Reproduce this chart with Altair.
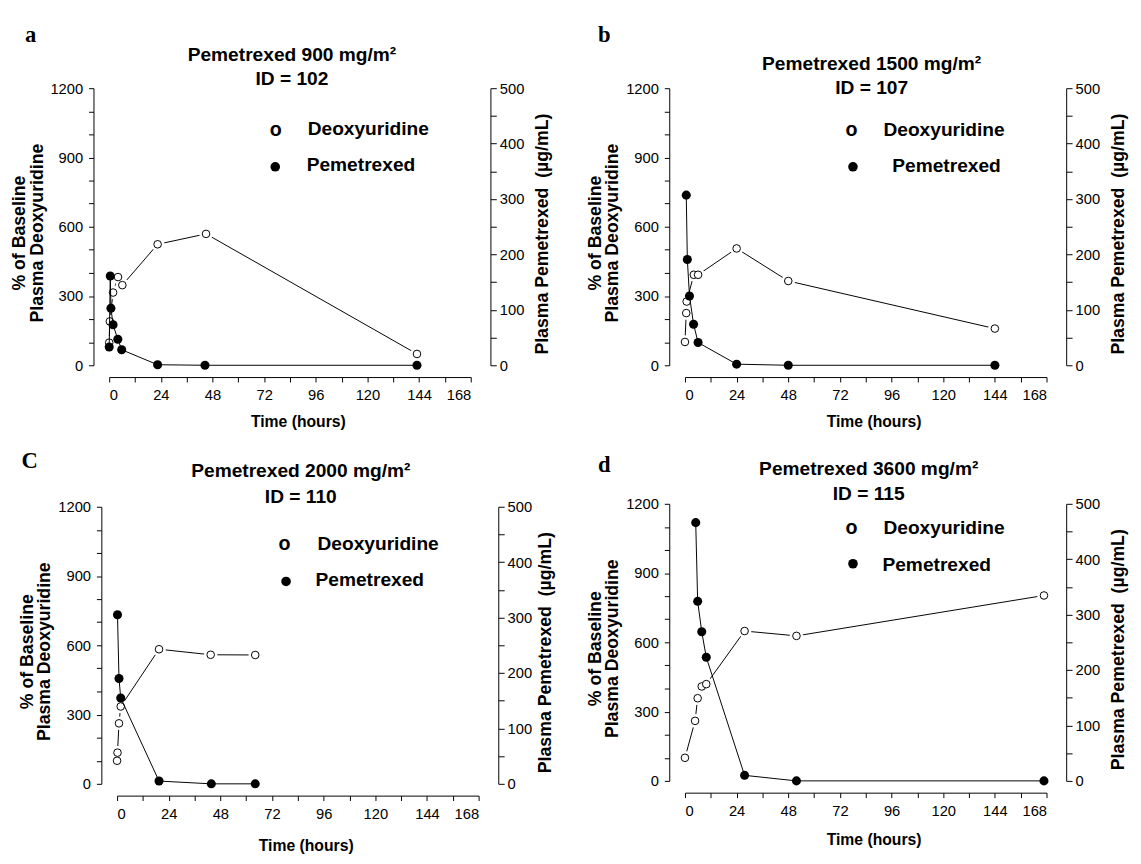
import altair as alt
import pandas as pd

# ---------------- data ----------------
PANEL_LETTERS = ["a", "b", "C", "d"]
DOSE_TITLES = ["Pemetrexed 900 mg/m²", "Pemetrexed 1500 mg/m²",
               "Pemetrexed 2000 mg/m²", "Pemetrexed 3600 mg/m²"]
ID_TITLES = ["ID = 102", "ID = 107", "ID = 110", "ID = 115"]
LEGEND_LABELS = ["Deoxyuridine", "Pemetrexed"]

a_deoxy_t = [0, 0.3, 1.8, 4.1, 6.1, 22.5, 45, 143]
a_deoxy_v = [98, 190, 315, 382, 347, 524, 569, 49]
a_pem_t = [0, 0.5, 0.8, 1.8, 4.0, 5.8, 22.5, 44.5, 143]
a_pem_v = [33, 161, 103, 73, 47, 28, 1, 0, 0]

b_deoxy_t = [0, 0.6, 0.8, 4.1, 6.1, 24, 48, 144]
b_deoxy_v = [101, 226, 276, 392, 392, 506, 365, 159]
b_pem_t = [0.6, 1.1, 2.1, 4.0, 6.1, 24, 48, 144]
b_pem_v = [307, 191, 125, 74, 41, 2, 0, 0]

c_deoxy_t = [0, 0.2, 0.9, 1.7, 19.5, 43.5, 64.2]
c_deoxy_v = [100, 135, 262, 335, 583, 559, 558]
c_pem_t = [0.2, 0.9, 1.7, 19.5, 43.8, 64.2]
c_pem_v = [305, 190, 155, 5, 0, 0]

d_deoxy_t = [0, 4.7, 5.9, 7.8, 9.9, 27.7, 51.8, 166.8]
d_deoxy_v = [100, 260, 358, 409, 419, 649, 628, 803]
d_pem_t = [5.0, 5.9, 7.8, 9.9, 27.7, 51.8, 166.8]
d_pem_v = [466, 324, 269, 223, 10, 0, 0]

X_TICKS = list(range(0, 169, 12))
LEFT_TICKS = list(range(0, 1201, 100))
RIGHT_TICKS = list(range(0, 501, 50))

# ---------------- styling / layout ----------------
W, H = 368, 282
SANS = "Liberation Sans, Arial, Helvetica, sans-serif"
SERIF = "Liberation Serif, Times New Roman, serif"

# positions of annotations relative to the plot's x=0 / top edge
LAYOUT = [
    dict(shift=0, letter=(-80, -47), title_x=186, t1=-34, t2=-9,
         o=(169.5, 48.5), l1=(202, 42), f=(169, 80), l2=(201, 78.5),
         xpad=11, rpad=10),
    dict(shift=0, letter=(-82, -47), title_x=190, t1=-25, t2=0,
         o=(169.5, 48.5), l1=(202, 42.5), f=(171, 80), l2=(211, 79),
         xpad=11, rpad=10),
    dict(shift=8, letter=(-89, -39), title_x=187, t1=-36, t2=-10,
         o=(170.5, 44.5), l1=(204, 37.5), f=(172, 76), l2=(202, 75),
         xpad=17, rpad=5),
    dict(shift=0, letter=(-82, -32), title_x=187, t1=-35, t2=-10,
         o=(169.5, 30.5), l1=(202, 25), f=(171, 61), l2=(201, 62),
         xpad=14, rpad=10),
]


def text_layer(txt, x, y, size, weight="bold", font=SANS, align="left",
               baseline="middle"):
    df = pd.DataFrame({"label": [txt]})
    return alt.Chart(df).mark_text(
        font=font, fontSize=size, fontWeight=weight, align=align,
        baseline=baseline, color="black"
    ).encode(x=alt.value(x), y=alt.value(y), text="label:N")


def panel(i, deoxy_t, deoxy_v, pem_t, pem_v):
    lay = LAYOUT[i]
    s = lay["shift"]
    ddf = pd.DataFrame({"t": deoxy_t, "v": deoxy_v})
    pdf = pd.DataFrame({"t": pem_t, "v": pem_v})

    x = alt.X("t:Q", scale=alt.Scale(domain=[0, 168], range=[s, s + W], nice=False, zero=False),
              axis=alt.Axis(values=X_TICKS, offset=12, tickSize=5,
                            labelExpr="datum.value % 24 === 0 ? datum.label : ''",
                            labelPadding=6, title="Time (hours)",
                            titleFontSize=16, titlePadding=lay["xpad"], titleX=s + 192))
    yl = alt.Y("v:Q", scale=alt.Scale(domain=[0, 1200], nice=False),
               axis=alt.Axis(orient="left", values=LEFT_TICKS, offset=16 - s, tickSize=5,
                             format="d",
                             labelExpr="datum.value % 300 === 0 ? datum.label : ''",
                             labelPadding=6,
                             title=["% of Baseline", "Plasma Deoxyuridine"],
                             titleFontSize=18, titleLineHeight=18, titlePadding=4,
                             titleY=H / 2 + 6))
    yr = alt.Y("v:Q", scale=alt.Scale(domain=[0, 500], nice=False),
               axis=alt.Axis(orient="right", values=RIGHT_TICKS, offset=20, tickSize=6,
                             format="d",
                             labelExpr="datum.value % 100 === 0 ? datum.label : ''",
                             labelPadding=3,
                             title="Plasma Pemetrexed\u00a0 (µg/mL)",
                             titleFontSize=18, titleAngle=270, titleBaseline="top",
                             titlePadding=lay["rpad"], titleY=H / 2 + 7))

    bd = alt.Chart(ddf).encode(x=x, y=yl)
    deoxy = alt.layer(
        bd.mark_line(color="black", strokeWidth=1),
        bd.mark_circle(color="white", size=190, opacity=1),
        bd.mark_circle(fill="white", stroke="black", strokeWidth=1, size=60, opacity=1),
    )
    bp = alt.Chart(pdf).encode(x=x, y=yr)
    pem = alt.layer(
        bp.mark_line(color="black", strokeWidth=1),
        bp.mark_circle(color="black", size=85, opacity=1),
    )

    annots = [
        text_layer(PANEL_LETTERS[i], s + lay["letter"][0], lay["letter"][1], 23,
                   font=SERIF, align="center", baseline="alphabetic"),
        text_layer(DOSE_TITLES[i], s + lay["title_x"], lay["t1"], 19.5, align="center"),
        text_layer(ID_TITLES[i], s + lay["title_x"], lay["t2"], 19.5, align="center"),
        text_layer("o", s + lay["o"][0], lay["o"][1], 20, align="center", baseline="alphabetic"),
        text_layer(LEGEND_LABELS[0], s + lay["l1"][0], lay["l1"][1], 19.5),
        text_layer(LEGEND_LABELS[1], s + lay["l2"][0], lay["l2"][1], 19.5),
    ]
    legdot = alt.Chart(pd.DataFrame({"k": [LEGEND_LABELS[1]]})).mark_circle(
        color="black", size=95, opacity=1
    ).encode(x=alt.value(s + lay["f"][0]), y=alt.value(lay["f"][1]))
    annots.append(legdot)

    return alt.layer(deoxy, pem, *annots).resolve_scale(y="independent").properties(
        width=W + s, height=H)


pa = panel(0, a_deoxy_t, a_deoxy_v, a_pem_t, a_pem_v)
pb = panel(1, b_deoxy_t, b_deoxy_v, b_pem_t, b_pem_v)
pc = panel(2, c_deoxy_t, c_deoxy_v, c_pem_t, c_pem_v)
pd_ = panel(3, d_deoxy_t, d_deoxy_v, d_pem_t, d_pem_v)

col1 = alt.vconcat(pa, pc, spacing=22)
col2 = alt.vconcat(pb, pd_, spacing=26)

chart = alt.hconcat(col1, col2, spacing=31).properties(
    padding={"left": 2, "top": 9, "right": 5, "bottom": 5}
).configure_view(stroke=None).configure_axis(
    grid=False, domainColor="black", domainWidth=1, tickColor="black", tickWidth=1,
    labelColor="black", titleColor="black", labelFont=SANS, titleFont=SANS,
    labelFontSize=15, titleFontWeight="bold", labelFontWeight="normal"
)

chart.save("out.html", embed_options={"renderer": "svg", "actions": False})
